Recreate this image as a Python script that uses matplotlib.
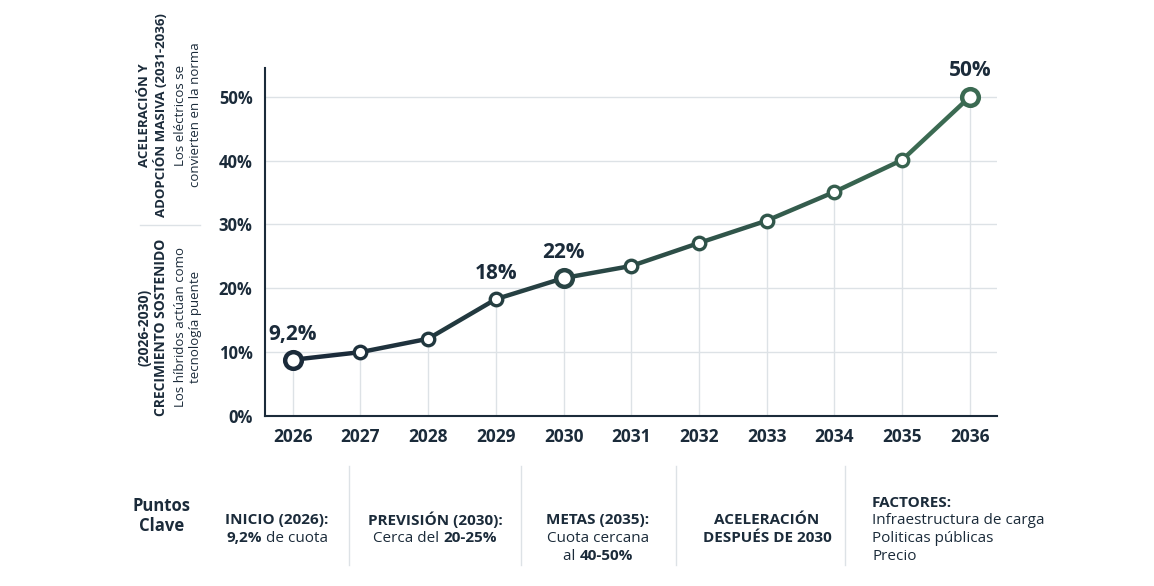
import numpy as np
import matplotlib.pyplot as plt
from matplotlib.collections import LineCollection
from matplotlib.lines import Line2D
from matplotlib.colors import to_rgb

plt.rcParams['font.family'] = ['Open Sans', 'DejaVu Sans']

years = [2026, 2027, 2028, 2029, 2030, 2031, 2032, 2033, 2034, 2035, 2036]
share = [8.8, 10.0, 12.1, 18.3, 21.6, 23.5, 27.1, 30.6, 35.1, 40.1, 50.0]
big_points = [2026, 2030, 2036]
labels = {2026: "9,2%", 2029: "18%", 2030: "22%", 2036: "50%"}
yticks = [0, 10, 20, 30, 40, 50]

DARK = "#1b2b3a"
GREEN = "#3b6a52"
GRID = "#dde2e6"

fig = plt.figure(figsize=(11.54, 5.86), dpi=100)
ax = fig.add_axes([265 / 1154, 1 - 416 / 586, 732 / 1154, 348 / 586])

x = np.array(years, dtype=float)
y = np.array(share)

ax.set_xlim(2025.59, 2036.4)
ax.set_ylim(0, 54.5)

for t in yticks[1:]:
    ax.axhline(t, color=GRID, lw=1, zorder=0)
ax.vlines(x, 0, y, color=GRID, lw=1, zorder=0)

# line coloured from navy to green
c0, c1 = np.array(to_rgb(DARK)), np.array(to_rgb(GREEN))
segs = [[(x[i], y[i]), (x[i + 1], y[i + 1])] for i in range(len(x) - 1)]
fr = np.linspace(0, 1, len(segs))
seg_cols = [tuple(c0 + (c1 - c0) * f) for f in fr]
ax.add_collection(LineCollection(segs, colors=seg_cols, linewidths=3.2, zorder=2, capstyle='round'))

pt_fr = np.linspace(0, 1, len(x))
for xi, yi, f in zip(x, y, pt_fr):
    col = tuple(c0 + (c1 - c0) * f)
    if int(xi) in big_points:
        ax.plot(xi, yi, 'o', ms=12, mfc='white', mec=col, mew=3.2, zorder=3)
    else:
        ax.plot(xi, yi, 'o', ms=9, mfc='white', mec=col, mew=2.4, zorder=3)

for yr, txt in labels.items():
    v = share[years.index(yr)]
    ax.annotate(txt, (yr, v), xytext=(0, 11), textcoords='offset points',
                ha='center', va='bottom', fontsize=15, fontweight='bold', color=DARK)

ax.set_xticks(years)
ax.set_xticklabels([str(v) for v in years], fontsize=12.5, fontweight='bold', color=DARK)
ax.set_yticks(yticks)
ax.set_yticklabels([f"{v}%" for v in yticks], fontsize=12, fontweight='bold', color=DARK)
ax.tick_params(length=0, pad=9)
for s in ['top', 'right']:
    ax.spines[s].set_visible(False)
for s in ['left', 'bottom']:
    ax.spines[s].set_color(DARK)
    ax.spines[s].set_linewidth(1.5)

W, H = 1154, 586


def fx(px):
    return px / W


def fy(py):
    return 1 - py / H


# left side rotated notes
fig.text(fx(153), fy(115), "ACELERACIÓN Y\nADOPCIÓN MASIVA (2031-2036)", rotation=90,
         ha='center', va='center', multialignment='center', fontsize=9.5,
         fontweight='bold', color=DARK, linespacing=1.25)
fig.text(fx(188), fy(115), "Los eléctricos se\nconvierten en la norma", rotation=90,
         ha='center', va='center', multialignment='center', fontsize=9.5,
         color=DARK, linespacing=1.25)
fig.add_artist(Line2D([fx(140), fx(200)], [fy(225), fy(225)], color=GRID, lw=1))
fig.text(fx(153), fy(327), "(2026-2030)\nCRECIMIENTO SOSTENIDO", rotation=90,
         ha='center', va='center', multialignment='center', fontsize=10,
         fontweight='bold', color=DARK, linespacing=1.25)
fig.text(fx(188), fy(327), "Los híbridos actúan como\ntecnología puente", rotation=90,
         ha='center', va='center', multialignment='center', fontsize=9.5,
         color=DARK, linespacing=1.25)

# bottom key points
for sx in [349, 521, 676, 845]:
    fig.add_artist(Line2D([fx(sx), fx(sx)], [fy(466), fy(565)], color=GRID, lw=1))

fig.text(fx(162), fy(516), "Puntos\nClave", ha='center', va='center', fontsize=12,
         fontweight='bold', color=DARK, linespacing=1.2)

renderer = fig.canvas.get_renderer()


def mixed_line(cx, cy, parts, size=11):
    # parts: list of (text, bold); centred at cx
    items = []
    for txt, bold in parts:
        t = fig.text(0, fy(cy), txt, fontsize=size, fontweight='bold' if bold else 'normal',
                     color=DARK, ha='left', va='center')
        items.append(t)
    widths = [t.get_window_extent(renderer).width for t in items]
    start = cx - sum(widths) / 2
    for t, w in zip(items, widths):
        t.set_x(fx(start))
        start += w


mixed_line(277, 520, [("INICIO (2026):", True)])
mixed_line(277, 538, [("9,2%", True), (" de cuota", False)])
mixed_line(435, 520, [("PREVISIÓN (2030):", True)])
mixed_line(435, 538, [("Cerca del ", False), ("20-25%", True)])
mixed_line(598, 520, [("METAS (2035):", True)])
mixed_line(598, 538, [("Cuota cercana", False)])
mixed_line(598, 556, [("al ", False), ("40-50%", True)])
mixed_line(767, 520, [("ACELERACIÓN", True)])
mixed_line(767, 538, [("DESPUÉS DE 2030", True)])

fig.text(fx(872), fy(503), "FACTORES:", ha='left', va='center', fontsize=11, fontweight='bold', color=DARK)
for txt, py in [("Infraestructura de carga", 520), ("Politicas públicas", 538), ("Precio", 556)]:
    fig.text(fx(872), fy(py), txt, ha='left', va='center', fontsize=11, color=DARK)

fig.savefig("out.png", dpi=100, facecolor='white')
